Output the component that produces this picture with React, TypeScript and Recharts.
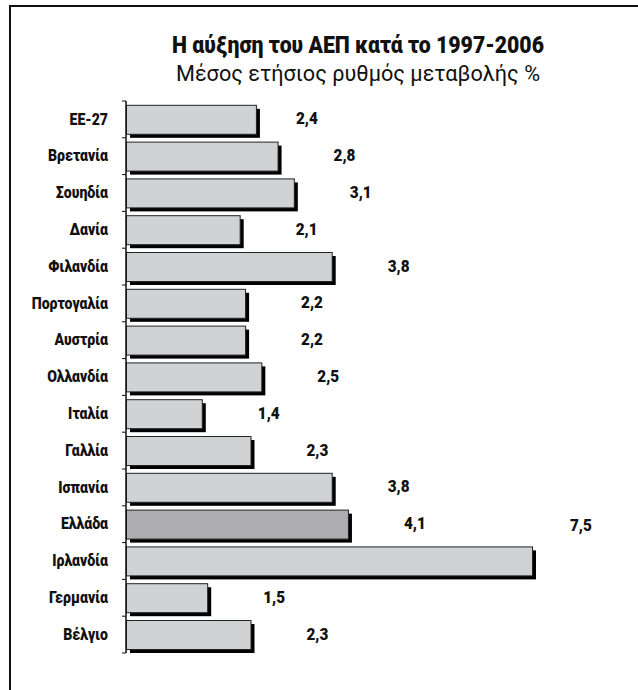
import React from "react";
import { BarChart, Bar, XAxis, YAxis } from "recharts";

const categories = [
  "ΕΕ-27", "Βρετανία", "Σουηδία", "Δανία", "Φιλανδία", "Πορτογαλία", "Αυστρία",
  "Ολλανδία", "Ιταλία", "Γαλλία", "Ισπανία", "Ελλάδα", "Ιρλανδία", "Γερμανία", "Βέλγιο",
];
const growth = [2.4, 2.8, 3.1, 2.1, 3.8, 2.2, 2.2, 2.5, 1.4, 2.3, 3.8, 4.1, 7.5, 1.5, 2.3];
const highlight = "Ελλάδα";
const title = "Η αύξηση του ΑΕΠ κατά το 1997-2006";
const subtitle = "Μέσος ετήσιος ρυθμός μεταβολής %";

const data = categories.map((name, i) => ({ name, value: growth[i] }));

const FONT = "Roboto, 'DejaVu Sans Condensed', sans-serif";
const SQ = 0.83;
const M_TOP = 101;
const M_BOTTOM = 37;
const H = 690;
const BAND = (H - M_TOP - M_BOTTOM) / categories.length;

const ShadowBar = (props: any) => {
  const { x, y, width, height, payload } = props;
  const fill = payload.name === highlight ? "#adadaf" : "#d1d2d4";
  return (
    <g>
      <rect x={x + 4} y={y + 4} width={width} height={height} fill="#000" />
      <rect x={x + 0.5} y={y + 0.5} width={width} height={height} fill={fill} stroke="#222" strokeWidth={1} />
    </g>
  );
};

const ValueLabel = (props: any) => {
  const { x, y, width, height, value, index } = props;
  let lx = x + width + 56;
  let ly = y + height / 2;
  if (index === 0) lx = x + width + 40;
  if (categories[index] === "Ιρλανδία") {
    lx = x + width + 38;
    ly = y + height / 2 - 35;
  }
  return (
    <text
      transform={`translate(${lx},${ly - 1}) scale(0.9,1)`}
      dy="0.36em"
      textAnchor="start"
      fontFamily={FONT}
      fontWeight={900}
      fontSize={17}
      fill="#111"
    >
      {String(value).replace(".", ",")}
    </text>
  );
};

const CatTick = (props: any) => {
  const { x, y, payload, index } = props;
  const last = index === categories.length - 1;
  return (
    <g>
      <line x1={x - 4} x2={x} y1={y - BAND / 2} y2={y - BAND / 2} stroke="#111" strokeWidth={1} />
      {last && <line x1={x - 4} x2={x} y1={y + BAND / 2} y2={y + BAND / 2} stroke="#111" strokeWidth={1} />}
      <text
        transform={`translate(${x - 18},${y - 1}) scale(${SQ},1)`}
        dy="0.36em"
        textAnchor="end"
        fontFamily={FONT}
        fontWeight={900}
        fontSize={17}
        fill="#111"
      >
        {payload.value}
      </text>
    </g>
  );
};

export default function App() {
  return (
    <div style={{ position: "absolute", left: 0, top: 0, width: 638, height: 690, background: "#fff", overflow: "hidden" }}>
      <div style={{ position: "absolute", left: 9, top: 5, width: 640, height: 700, borderTop: "2px solid #111", borderLeft: "2px solid #111" }} />
      <svg style={{ position: "absolute", left: 0, top: 0 }} width={638} height={100}>
        <text x={358} y={53} textAnchor="middle" fontFamily={FONT} fontWeight={900} fontSize={23} fill="#111" textLength={372} lengthAdjust="spacingAndGlyphs">
          {title}
        </text>
        <text x={358} y={81} textAnchor="middle" fontFamily={FONT} fontSize={22} fill="#111" textLength={364} lengthAdjust="spacingAndGlyphs">
          {subtitle}
        </text>
      </svg>
      <div style={{ position: "absolute", left: 0, top: 0 }}>
        <BarChart
          width={638}
          height={H}
          data={data}
          layout="vertical"
          margin={{ top: M_TOP, bottom: M_BOTTOM, left: 10, right: 106 }}
          barCategoryGap={3.8}
        >
          <XAxis type="number" domain={[0, 7.5]} hide />
          <YAxis
            type="category"
            dataKey="name"
            width={116}
            axisLine={{ stroke: "#111", strokeWidth: 1.5 }}
            tickLine={false}
            tickSize={0}
            tickMargin={0}
            interval={0}
            tick={CatTick}
          />
          <Bar dataKey="value" isAnimationActive={false} shape={ShadowBar} label={ValueLabel} />
        </BarChart>
      </div>
    </div>
  );
}
